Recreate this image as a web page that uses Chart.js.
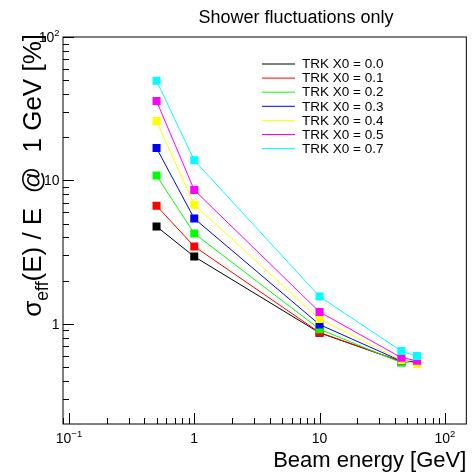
<!DOCTYPE html>
<html>
<head>
<meta charset="utf-8">
<script src="https://cdn.jsdelivr.net/npm/chart.js@4/dist/chart.umd.min.js"></script>
<style>
  html, body { margin: 0; padding: 0; background: #ffffff; }
  canvas { display: block; }
</style>
</head>
<body>
<canvas id="c" width="472" height="475"></canvas>
<script>
// Beam energies [GeV]
const energies = [0.5, 1, 10, 45, 60];

// Effective resolution sigma_eff(E)/E scaled to 1 GeV [%], one array per tracker thickness
const trk00 = [4.77, 2.94, 0.865, 0.545, 0.535];
const trk01 = [6.65, 3.46, 0.870, 0.545, 0.535];
const trk02 = [10.8, 4.26, 0.917, 0.535, 0.540];
const trk03 = [16.8, 5.42, 0.987, 0.550, 0.545];
const trk04 = [25.9, 6.76, 1.080, 0.555, 0.525];
const trk05 = [35.8, 8.56, 1.210, 0.580, 0.552];
const trk07 = [49.5, 13.8, 1.550, 0.645, 0.595];

const seriesValues = [trk00, trk01, trk02, trk03, trk04, trk05, trk07];
const seriesLabels = ['TRK X0 = 0.0', 'TRK X0 = 0.1', 'TRK X0 = 0.2', 'TRK X0 = 0.3',
                      'TRK X0 = 0.4', 'TRK X0 = 0.5', 'TRK X0 = 0.7'];
const seriesColors = ['#000000', '#ff0000', '#00ff00', '#0000ff', '#ffff00', '#ff00ff', '#00ffff'];

// Axis decorations: major tick values with their labels as [base, exponent]
const xMajorTicks = [0.1, 1, 10, 100];
const xTickLabels = [['10', '\u22121'], ['1', ''], ['10', ''], ['10', '2']];
const yMajorTicks = [1, 10, 100];
const yTickLabels = [['1', ''], ['10', ''], ['10', '2']];

const titleText = 'Shower fluctuations only';
const xTitleText = 'Beam energy [GeV]';
const yTitleParts = [
  { text: '\u03c3', scale: 1, shift: 0 },
  { text: 'eff', scale: 0.68, shift: 0.28 },
  { text: '(E) / E  @  1 GeV [%]', scale: 1, shift: 0 }
];

const FONT = '"Liberation Sans", Arial, Helvetica, sans-serif';
const font = px => px + 'px ' + FONT;

function drawPower(ctx, base, exp, x, y, px, align) {
  ctx.font = font(px);
  const wb = ctx.measureText(base).width;
  const ep = px * 0.68;
  ctx.font = font(ep);
  const we = exp ? ctx.measureText(exp).width : 0;
  const total = wb + we;
  const x0 = align === 'right' ? x - total : (align === 'center' ? x - total / 2 : x);
  ctx.textAlign = 'left';
  ctx.textBaseline = 'alphabetic';
  ctx.font = font(px);
  ctx.fillText(base, x0, y);
  if (exp) {
    ctx.font = font(ep);
    ctx.fillText(exp, x0 + wb, y - px * 0.42);
  }
}

function minorValues(min, max) {
  const out = [];
  for (let d = Math.floor(Math.log10(min)); d <= Math.ceil(Math.log10(max)); d++) {
    for (let k = 2; k <= 9; k++) {
      const v = k * Math.pow(10, d);
      if (v > min * 1.001 && v < max * 0.999) out.push(v);
    }
  }
  return out;
}

// Frame with inward ticks on the bottom and left axes
const frameAxes = {
  id: 'frameAxes',
  beforeDatasetsDraw(chart) {
    const { ctx, chartArea: a, scales: { x, y } } = chart;
    ctx.save();
    ctx.strokeStyle = '#000000';
    ctx.lineWidth = 1;
    ctx.strokeRect(a.left, a.top, a.right - a.left, a.bottom - a.top);
    ctx.beginPath();
    const majorLen = 11, minorLen = 6;
    xMajorTicks.forEach(v => {
      const px = Math.round(x.getPixelForValue(v)) + 0.5;
      ctx.moveTo(px, a.bottom); ctx.lineTo(px, a.bottom - majorLen);
    });
    minorValues(x.min, x.max).forEach(v => {
      const px = Math.round(x.getPixelForValue(v)) + 0.5;
      ctx.moveTo(px, a.bottom); ctx.lineTo(px, a.bottom - minorLen);
    });
    yMajorTicks.forEach(v => {
      const py = Math.round(y.getPixelForValue(v)) + 0.5;
      ctx.moveTo(a.left, py); ctx.lineTo(a.left + majorLen, py);
    });
    minorValues(y.min, y.max).forEach(v => {
      const py = Math.round(y.getPixelForValue(v)) + 0.5;
      ctx.moveTo(a.left, py); ctx.lineTo(a.left + minorLen, py);
    });
    ctx.stroke();
    ctx.restore();
  },
  afterDraw(chart) {
    const { ctx, chartArea: a, scales: { x, y } } = chart;
    ctx.save();
    ctx.fillStyle = '#000000';

    // tick labels
    xMajorTicks.forEach((v, i) => {
      drawPower(ctx, xTickLabels[i][0], xTickLabels[i][1], x.getPixelForValue(v), a.bottom + 19, 14, 'center');
    });
    yMajorTicks.forEach((v, i) => {
      drawPower(ctx, yTickLabels[i][0], yTickLabels[i][1], a.left - 3.5, y.getPixelForValue(v) + 5, 14, 'right');
    });

    // title
    ctx.font = font(18);
    ctx.textAlign = 'center';
    ctx.textBaseline = 'middle';
    ctx.fillText(titleText, 296, 18.5);

    // x axis title, right aligned on the axis end
    ctx.font = font(22);
    ctx.textAlign = 'right';
    ctx.textBaseline = 'alphabetic';
    ctx.fillText(xTitleText, a.right, 467);

    // y axis title, rotated and right aligned on the axis end
    const yPx = 26;
    let total = 0;
    yTitleParts.forEach(p => {
      ctx.font = font(yPx * p.scale);
      p.w = ctx.measureText(p.text).width;
      total += p.w;
    });
    ctx.translate(41, a.top - 3);
    ctx.rotate(-Math.PI / 2);
    ctx.textAlign = 'left';
    let cx = -total;
    yTitleParts.forEach(p => {
      ctx.font = font(yPx * p.scale);
      ctx.fillText(p.text, cx, yPx * p.shift);
      cx += p.w;
    });
    ctx.setTransform(1, 0, 0, 1, 0, 0);

    // legend
    const lx0 = 262, lx1 = 295, tx = 302, ly0 = 64, dy = 14.1;
    chart.data.datasets.forEach((ds, i) => {
      const yy = ly0 + i * dy;
      ctx.strokeStyle = ds.borderColor;
      ctx.lineWidth = 1;
      ctx.beginPath();
      ctx.moveTo(lx0, yy); ctx.lineTo(lx1, yy);
      ctx.stroke();
      ctx.fillStyle = '#000000';
      ctx.font = font(13.5);
      ctx.textAlign = 'left';
      ctx.textBaseline = 'middle';
      ctx.fillText(ds.label, tx, yy + 0.5);
    });
    ctx.restore();
  }
};

const datasets = seriesValues.map((vals, i) => ({
  label: seriesLabels[i],
  data: energies.map((e, j) => ({ x: e, y: vals[j] })),
  borderColor: seriesColors[i],
  backgroundColor: seriesColors[i],
  pointBackgroundColor: seriesColors[i],
  pointBorderColor: seriesColors[i],
  borderWidth: 1,
  pointBorderWidth: 0,
  pointStyle: 'rect',
  pointRadius: 5.66,
  tension: 0,
  fill: false,
  order: seriesValues.length - i
}));

new Chart(document.getElementById('c'), {
  type: 'line',
  data: { datasets },
  options: {
    responsive: false,
    devicePixelRatio: 1,
    animation: false,
    layout: { padding: { left: 63, top: 37, right: 3, bottom: 51 } },
    scales: {
      x: { type: 'logarithmic', min: 0.0896, max: 148.5, display: false },
      y: { type: 'logarithmic', min: 0.2, max: 100, display: false }
    },
    plugins: {
      legend: { display: false },
      title: { display: false },
      tooltip: { enabled: false }
    },
    events: []
  },
  plugins: [frameAxes]
});
</script>
</body>
</html>
